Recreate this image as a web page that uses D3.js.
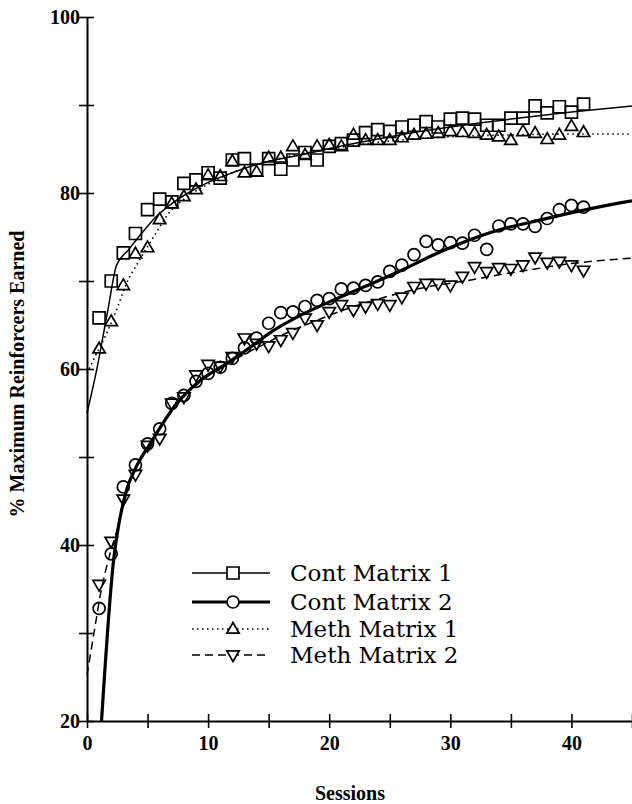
<!DOCTYPE html>
<html>
<head>
<meta charset="utf-8">
<script src="https://cdn.jsdelivr.net/npm/d3@7/dist/d3.min.js"></script>
<style>
  html, body { margin: 0; padding: 0; background: #fff; }
</style>
</head>
<body>
<div id="chart"></div>
<script>
// sessions 1..41
const sessions = [1,2,3,4,5,6,7,8,9,10,11,12,13,14,15,16,17,18,19,20,21,
  22,23,24,25,26,27,28,29,30,31,32,33,34,35,36,37,38,39,40,41];

// observed points (% maximum reinforcers earned)
const contMatrix1 = [65.8,70.0,73.2,75.4,78.1,79.3,79.0,81.1,81.5,82.3,81.7,83.75,83.9,82.6,83.9,82.7,
  83.75,84.6,83.75,85.3,85.6,86.0,86.85,87.2,87.0,87.5,87.7,88.1,87.5,88.4,88.5,88.4,87.7,87.7,
  88.5,88.5,89.9,89.1,89.8,89.2,90.1];
const contMatrix2 = [32.8,39.0,46.6,49.1,51.5,53.2,56.1,57.0,58.6,59.5,60.2,61.2,62.4,63.5,65.2,66.4,
  66.5,67.1,67.8,68.0,69.1,69.2,69.5,69.9,71.1,71.8,73.0,74.5,74.1,74.35,74.3,75.2,73.6,76.25,
  76.5,76.5,76.2,77.1,78.1,78.6,78.4];
const methMatrix1 = [62.3,65.4,69.5,73.1,73.8,77.0,78.8,79.6,80.4,82.0,81.9,83.6,82.3,82.4,84.0,84.0,
  85.3,84.3,85.3,85.45,85.3,86.6,86.0,86.0,86.0,86.3,86.6,86.7,86.8,87.0,86.9,86.8,86.6,86.4,
  86.0,87.0,86.8,86.1,86.6,87.6,86.9];
const methMatrix2 = [35.5,40.4,45.2,48.0,51.3,52.1,56.1,56.8,59.3,60.5,60.3,61.4,63.5,62.9,62.6,63.3,
  64.1,65.75,65.0,66.5,67.3,66.7,67.1,67.4,67.3,68.15,69.35,69.7,69.7,69.5,70.5,71.6,71.05,71.5,
  71.4,71.8,72.7,72.1,72.2,71.8,71.2];

// fitted curves as [session, value]
const contFit1 = [[0,55],[0.8,59.9],[1.75,66.9],[2.44,71.8],[3.4,73.5],[4.5,75.4],[5.7,77.3],[7,78.8],
  [8.1,79.8],[10,81.2],[12,82.3],[15,83.6],[17.5,84.3],[21.6,85.5],[25.8,86.6],[30,87.5],[35,88.4],
  [40,89.2],[45,89.9]];
const contFit2 = [[1.2,20],[2.2,38.3],[2.5,41.3],[3.3,46.4],[4,48.7],[5.3,51.7],[7.2,55.7],[9.4,58.75],
  [11.4,60.5],[13.3,62.3],[15.2,64.2],[17.5,66.0],[20.3,67.8],[23,69.4],[25.8,71.1],[28.5,72.9],
  [31.25,74.5],[34,75.8],[36.7,76.7],[39.5,77.6],[42.2,78.4],[45,79.1]];
const methFit1 = [[0,59.5],[0.66,61.4],[1.6,64.0],[2.6,67.3],[3.1,69.2],[4.3,72.3],[5.5,75.0],[6.7,77.6],
  [8,79.3],[10,81.0],[12,82.3],[15,83.6],[20,85.0],[25,85.9],[30,86.4],[35,86.6],[40,86.7],[45,86.7]];
const methFit2 = [[0,25.2],[0.66,30.7],[1.07,34.1],[1.9,39.0],[2.5,41.8],[3.3,46.3],[4,48.6],[5.3,51.6],
  [7.2,55.6],[9.4,58.6],[11.4,60.4],[13,61.7],[14.6,62.8],[16,63.8],[18.4,65.2],[21.6,66.9],
  [24.7,68.2],[28,69.3],[31.2,70.0],[34,70.7],[36.7,71.3],[39.5,71.9],[42.2,72.3],[45,72.6]];

const legendLabels = ["Cont Matrix 1", "Cont Matrix 2", "Meth Matrix 1", "Meth Matrix 2"];
const xTicks = [0,5,10,15,20,25,30,35,40,45];
const yTicks = [20,30,40,50,60,70,80,90,100];

const W = 632, H = 804;
const svg = d3.select("#chart").append("svg")
    .attr("width", W).attr("height", H)
    .style("display", "block");

const x = d3.scaleLinear().domain([0, 45]).range([87, 632]);
const y = d3.scaleLinear().domain([20, 100]).range([721, 17]);

const tickFont = "'Liberation Serif', 'Times New Roman', serif";

// marker shapes
function drawMarker(g, kind, fill) {
    const s = g.append("path")
        .attr("fill", fill)
        .attr("stroke", "#000")
        .attr("stroke-width", 1.7);
    if (kind === "square") s.attr("d", "M-6,-6H6V6H-6Z");
    else if (kind === "circle") s.attr("d", d3.arc()({innerRadius: 0, outerRadius: 6, startAngle: 0, endAngle: 2 * Math.PI}));
    else if (kind === "up") s.attr("d", "M0,-6.5L6.2,4.2H-6.2Z");
    else s.attr("d", "M0,6.5L6.2,-4.2H-6.2Z");
}

const series = [
    {name: legendLabels[0], values: contMatrix1, fit: contFit1, marker: "square", width: 1.5, dash: null},
    {name: legendLabels[1], values: contMatrix2, fit: contFit2, marker: "circle", width: 3.2, dash: null},
    {name: legendLabels[2], values: methMatrix1, fit: methFit1, marker: "up", width: 1.6, dash: "1.5,3.5"},
    {name: legendLabels[3], values: methMatrix2, fit: methFit2, marker: "down", width: 1.5, dash: "8,5"}
];

const line = d3.line()
    .x(d => x(d[0]))
    .y(d => y(d[1]))
    .curve(d3.curveMonotoneX);

// fitted curves
series.forEach(s => {
    svg.append("path")
        .attr("d", line(s.fit))
        .attr("fill", "none")
        .attr("stroke", "#000")
        .attr("stroke-width", s.width)
        .attr("stroke-dasharray", s.dash);
});

// data markers (hollow)
series.forEach(s => {
    const g = svg.append("g");
    s.values.forEach((v, i) => {
        const m = g.append("g").attr("transform", `translate(${x(sessions[i])},${y(v)})`);
        drawMarker(m, s.marker, "none");
    });
});

// y axis
const yAxis = svg.append("g")
    .attr("transform", `translate(${x(0)},0)`)
    .call(d3.axisLeft(y).tickValues(yTicks).tickSizeOuter(0)
        .tickFormat(d => d % 20 === 0 ? d : ""));
yAxis.select(".domain").attr("stroke-width", 2);
yAxis.selectAll(".tick line").attr("x1", 7).attr("x2", -8).attr("stroke-width", 1.6);
yAxis.selectAll(".tick text")
    .attr("x", -7).attr("dy", "0.34em")
    .style("font-family", tickFont).style("font-weight", "bold").style("font-size", "20px")
    .attr("fill", "#000");

// x axis
const xAxis = svg.append("g")
    .attr("transform", `translate(0,${y(20)})`)
    .call(d3.axisBottom(x).tickValues(xTicks).tickSizeOuter(0)
        .tickFormat(d => d % 10 === 0 && d < 45 ? d : ""));
xAxis.select(".domain").attr("stroke-width", 2);
xAxis.selectAll(".tick line").attr("y1", -7).attr("y2", 7).attr("stroke-width", 1.6);
xAxis.selectAll(".tick text")
    .attr("y", 29).attr("dy", 0)
    .style("font-family", tickFont).style("font-weight", "bold").style("font-size", "20px")
    .attr("fill", "#000");

// axis titles
svg.append("text")
    .attr("transform", "translate(24,374) rotate(-90)")
    .attr("text-anchor", "middle")
    .style("font-family", tickFont).style("font-weight", "bold").style("font-size", "20px")
    .text("% Maximum Reinforcers Earned");

svg.append("text")
    .attr("x", 350).attr("y", 800)
    .attr("text-anchor", "middle")
    .style("font-family", tickFont).style("font-weight", "bold").style("font-size", "20px")
    .text("Sessions");

// legend
const legendRows = [573, 602, 629, 655];
series.forEach((s, i) => {
    const g = svg.append("g").attr("transform", `translate(0,${legendRows[i]})`);
    g.append("line")
        .attr("x1", 192).attr("x2", 270)
        .attr("stroke", "#000")
        .attr("stroke-width", s.width)
        .attr("stroke-dasharray", s.dash);
    const m = g.append("g").attr("transform", "translate(233,0)");
    drawMarker(m, s.marker, "#fff");
    g.append("text")
        .attr("x", 290).attr("y", 8)
        .style("font-family", "'DejaVu Serif', serif")
        .style("font-size", "23px")
        .text(s.name);
});
</script>
</body>
</html>
